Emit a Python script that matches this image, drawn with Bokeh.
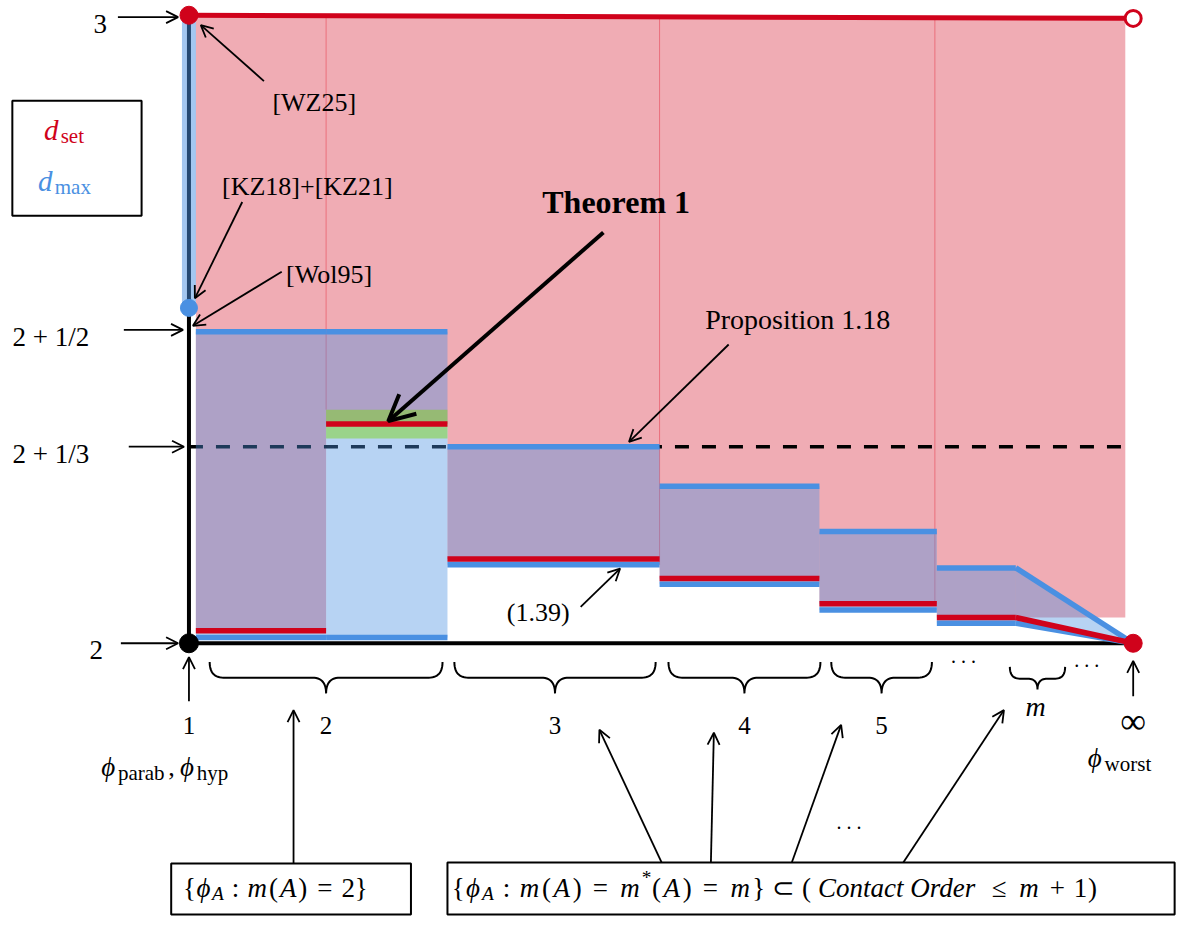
import numpy as np
from bokeh.plotting import figure
from bokeh.models import Range1d, Arrow, OpenHead
from bokeh.core.properties import value
from bokeh.embed import file_html
from bokeh.resources import INLINE

# ---------------- data (schematic diagram units) ----------------
# phi-axis: "1" sits at x = 0, "infinity" at x = x_inf ; vertical axis is the dimension d
x_one = 0.0
x_inf = 9.57
block_x0 = [0.07, 1.39, 2.62, 4.77, 6.39, 7.58]
block_x1 = [1.39, 2.62, 4.77, 6.39, 7.58, 8.38]
tail_x1 = 9.49
d_set_low = [2.020, 2.349, 2.134, 2.103, 2.063, 2.041]
d_max_high = [2.496, 2.496, 2.313, 2.250, 2.178, 2.120]
d_max_low = [2.009, 2.009, 2.125, 2.094, 2.053, 2.032]
d_set_top = [3.000, 2.995]          # at x_one and at x_inf
d_max_at_one = [2.534, 3.000]       # vertical d_max range at phi = 1
theorem_band = [2.326, 2.372]       # green band (Theorem 1)
dashed_level = 2.313
d_floor = 2.0
group_labels = ["2", "3", "4", "5", "m"]
group_x0 = [0.21, 2.69, 4.86, 6.51, 8.32]
group_x1 = [2.57, 4.73, 6.40, 7.53, 8.88]
ytick_labels = ["3", "2 + 1/2", "2 + 1/3", "2"]
ytick_values = [2.997, 2.499, 2.313, 2.000]
boundary_x = [1.39, 4.77, 7.56]
boundary_bottom = [2.372, 2.125, 2.066]

RED = "#D0021B"
BLUE = "#4A90E2"
GREEN = "#7ED321"
FONT = "Liberation Serif"

# ---------------- page <-> diagram helpers (layout only) ----------------
def X(px):
    return (px - 191.0) / 100.0

def Y(py):
    return 2.0 + (654.0 - py) / 639.0

def PX(x):
    return 191.0 + 100.0 * x

def PY(d):
    return 654.0 - (d - 2.0) * 639.0

p = figure(width=1184, height=916, output_backend="svg", toolbar_location=None,
           x_range=Range1d(X(0), X(1200)), y_range=Range1d(Y(932), Y(0)),
           x_axis_location=None, y_axis_location=None, min_border=0)
p.outline_line_color = None
p.xgrid.grid_line_color = None
p.ygrid.grid_line_color = None
p.background_fill_color = "white"
p.border_fill_color = "white"


def top_at(x):
    return d_set_top[0] + (d_set_top[1] - d_set_top[0]) * (x - x_one) / (x_inf - x_one)

# ---- d_set region (pink) ----
xs = [block_x0[0], tail_x1]
ys = [top_at(block_x0[0]), top_at(tail_x1)]
rights = block_x1[:-1] + [tail_x1]
for i in reversed(range(len(block_x0))):
    xs += [rights[i], block_x0[i]]
    ys += [d_set_low[i], d_set_low[i]]
p.patch(xs, ys, fill_color=RED, fill_alpha=0.33, line_color=None)

# thin boundary lines inside the pink region
p.segment(x0=boundary_x, y0=[top_at(b) for b in boundary_x], x1=boundary_x, y1=boundary_bottom,
          line_color="#E8606E", line_width=1, line_alpha=0.8)

# dashed 2+1/3 level
p.line([x_one, x_inf], [dashed_level, dashed_level], line_color="black", line_width=3.5,
       line_dash="14 13")

# ---- d_max region (blue) ----
p.quad(left=block_x0, right=block_x1, bottom=d_max_low, top=d_max_high,
       fill_color=BLUE, fill_alpha=0.4, line_color=None)
p.patch([block_x1[-1], x_inf, block_x1[-1]], [d_max_high[-1], d_floor, d_max_low[-1]],
        fill_color=BLUE, fill_alpha=0.4, line_color=None)

# Theorem 1 band
p.quad(left=[block_x0[1]], right=[block_x1[1]], bottom=[theorem_band[0]], top=[theorem_band[1]],
       fill_color=GREEN, fill_alpha=0.5, line_color=None)

# axes
p.line([x_one, x_inf], [d_floor, d_floor], line_color="black", line_width=4)
p.line([x_one, x_one], [d_floor, d_set_top[0]], line_color="black", line_width=4)
p.line([x_one, x_one], d_max_at_one, line_color=BLUE, line_alpha=0.5, line_width=14)

# d_max lines
p.segment(x0=block_x0, y0=d_max_high, x1=block_x1, y1=d_max_high, line_color=BLUE, line_width=5.5)
p.segment(x0=block_x0, y0=d_max_low, x1=block_x1, y1=d_max_low, line_color=BLUE, line_width=5.5)
p.segment(x0=[block_x1[-1]] * 2, y0=[d_max_high[-1], d_max_low[-1]], x1=[x_inf] * 2,
          y1=[d_floor] * 2, line_color=BLUE, line_width=5.5)
# d_set lines
p.segment(x0=block_x0, y0=d_set_low, x1=block_x1, y1=d_set_low, line_color=RED, line_width=5.5)
p.segment(x0=[block_x1[-1]], y0=[d_set_low[-1]], x1=[x_inf], y1=[d_floor], line_color=RED,
          line_width=5.5)
p.line([x_one, tail_x1], [top_at(x_one), top_at(tail_x1)], line_color=RED, line_width=5)

# dots
p.scatter([x_one], [d_floor], size=19, color="black")
p.scatter([x_one], [d_set_top[0]], size=18, color=RED)
p.scatter([x_one], [d_max_at_one[0]], size=17, color=BLUE)
p.scatter([x_inf], [d_floor], size=18, color=RED)
p.scatter([x_inf], [d_set_top[1]], size=16, fill_color="white", line_color=RED, line_width=3)

# ---------------- annotations ----------------
def arrow(x0p, y0p, x1p, y1p, lw=1.8, size=12):
    p.add_layout(Arrow(end=OpenHead(size=size, line_width=lw, line_color="black"),
                       x_start=X(x0p), y_start=Y(y0p), x_end=X(x1p), y_end=Y(y1p),
                       line_width=lw, line_color="black"))


def txt(xp, yp, s, size, color="black", style="normal", align="left"):
    p.text(x=[X(xp)], y=[Y(yp)], text=[s], text_font=value(FONT),
           text_font_size=f"{size:.1f}px", text_color=color, text_font_style=style,
           text_align=align, text_baseline="alphabetic")


def rich(pieces, x_start, x_end, base, size):
    total = sum(w for _, w, _, _ in pieces)
    scale = (x_end - x_start) / total
    cur = x_start
    for s, w, it, kind in pieces:
        cx = cur + w * scale / 2
        if kind == "sub":
            fs, by = size * 0.72, base + size * 0.22
        elif kind == "sup":
            fs, by = size * 0.72, base - size * 0.38
        else:
            fs, by = size, base
        txt(cx, by, s, fs, style="italic" if it else "normal", align="center")
        cur += w * scale

# y labels with arrows
ylab_cx = [101, 51, 51, 97]
ylab_arrow = [(119, 180), (125, 185), (130, 186), (122, 180)]
for lab, v, cx, (a0, a1) in zip(ytick_labels, ytick_values, ylab_cx, ylab_arrow):
    txt(cx, PY(v) + 7, lab, 27, align="center")
    arrow(a0, PY(v), a1, PY(v))

# x labels
txt(PX(x_one), 738, "1", 25, align="center")
arrow(PX(x_one), 713, PX(x_one), 668)
txt(PX(x_inf), 733, "∞", 36, align="center")
arrow(PX(x_inf), 708, PX(x_inf), 672)

# braces under the axis
for g0, g1, lab in zip(group_x0, group_x1, group_labels):
    a, b = PX(g0), PX(g1)
    m = (a + b) / 2
    small = (b - a) < 80
    ytop, ymid, ytip = (678, 690, 701) if small else (673, 689, 705)
    r = 10 if small else 14
    t = np.linspace(0, 1, 14)

    def q(p0, p1, p2):
        return ((1 - t) ** 2 * p0[0] + 2 * (1 - t) * t * p1[0] + t ** 2 * p2[0],
                (1 - t) ** 2 * p0[1] + 2 * (1 - t) * t * p1[1] + t ** 2 * p2[1])

    parts = [q((a, ytop), (a, ymid), (a + r, ymid)),
             q((m - r, ymid), (m, ymid), (m, ytip)),
             q((m, ytip), (m, ymid), (m + r, ymid)),
             q((b - r, ymid), (b, ymid), (b, ytop))]
    bx = np.concatenate([pp[0] for pp in parts])
    by = np.concatenate([pp[1] for pp in parts])
    p.line([X(v) for v in bx], [Y(v) for v in by], line_color="black", line_width=2)
    if lab == "m":
        txt(m - 2, 718, lab, 28, style="italic", align="center")
    else:
        txt(m, 738, lab, 25, align="center")

# ellipses
txt(976, 667, ". . .", 20, align="center")
txt(1101, 671, ". . .", 20, align="center")
txt(860, 836, ". . .", 20, align="center")

# phi labels
txt(102, 780, "ϕ", 27, style="italic")
txt(119, 786, "parab", 21)
txt(170, 780, ",", 26)
txt(182, 780, "ϕ", 27, style="italic")
txt(199, 786, "hyp", 21)
txt(1102, 771, "ϕ", 27, style="italic")
txt(1119, 777, "worst", 21)

# legend box
p.quad(left=[X(12)], right=[X(143)], top=[Y(102)], bottom=[Y(219)], fill_color=None,
       line_color="black", line_width=2)
txt(44, 132, "d", 29, color=RED, style="italic")
txt(61, 138, "set", 21, color=RED)
txt(38, 184, "d", 29, color=BLUE, style="italic")
txt(55, 190, "max", 21, color=BLUE)

# citations
txt(318, 104, "[WZ25]", 26, align="center")
arrow(267, 82, 203, 25)
txt(311, 189, "[KZ18]+[KZ21]", 26, align="center")
arrow(245, 205, 197, 303)
txt(333, 279, "[Wol95]", 26, align="center")
arrow(285, 276, 195, 331)

# Theorem 1 / Proposition / (1.39)
txt(624, 205, "Theorem 1", 32, style="bold", align="center")
arrow(611, 236, 393, 428, lw=4, size=26)
txt(808, 325, "Proposition 1.18", 28, align="center")
arrow(738, 350, 637, 449)
txt(545, 623, "(1.39)", 26, align="center")
arrow(588, 617, 628, 578)

# bottom boxes
p.quad(left=[X(173), X(453)], right=[X(416), X(1190)], top=[Y(878), Y(877)],
       bottom=[Y(930), Y(930)], fill_color=None, line_color="black", line_width=2)
box1 = [("{", .5, False, ""), ("ϕ", .596, True, ""), ("A", .53, True, "sub"),
        (":", .834, False, ""), ("m", .878, True, ""), ("(", .389, False, ""),
        ("A", .75, True, ""), (")", .389, False, ""), ("=", 1.334, False, ""),
        ("2", .5, False, ""), ("}", .5, False, "")]
rich(box1, 185, 372, 903, 27)
box2 = [("{", .5, False, ""), ("ϕ", .596, True, ""), ("A", .53, True, "sub"),
        (":", .834, False, ""), ("m", .878, True, ""), ("(", .389, False, ""),
        ("A", .75, True, ""), (")", .389, False, ""), ("=", 1.334, False, ""),
        ("m", .878, True, ""), ("*", .35, False, "sup"), ("(", .389, False, ""),
        ("A", .75, True, ""), (")", .389, False, ""), ("=", 1.334, False, ""),
        ("m", .878, True, ""), ("}", .5, False, ""), ("⊂", 1.334, False, ""),
        ("(", .389, False, ""), ("Contact Order", 6.3, True, ""),
        ("≤", 1.334, False, ""), ("m", .878, True, ""),
        ("+", 1.222, False, ""), ("1", .5, False, ""), (")", .389, False, "")]
rich(box2, 457, 1112, 903, 27)
arrow(297, 878, 297, 722)
arrow(670, 877, 607, 742)
arrow(720, 877, 723, 745)
arrow(802, 877, 852, 737)
arrow(915, 877, 1017, 722)

open("out.html", "w").write(file_html(p, INLINE))
